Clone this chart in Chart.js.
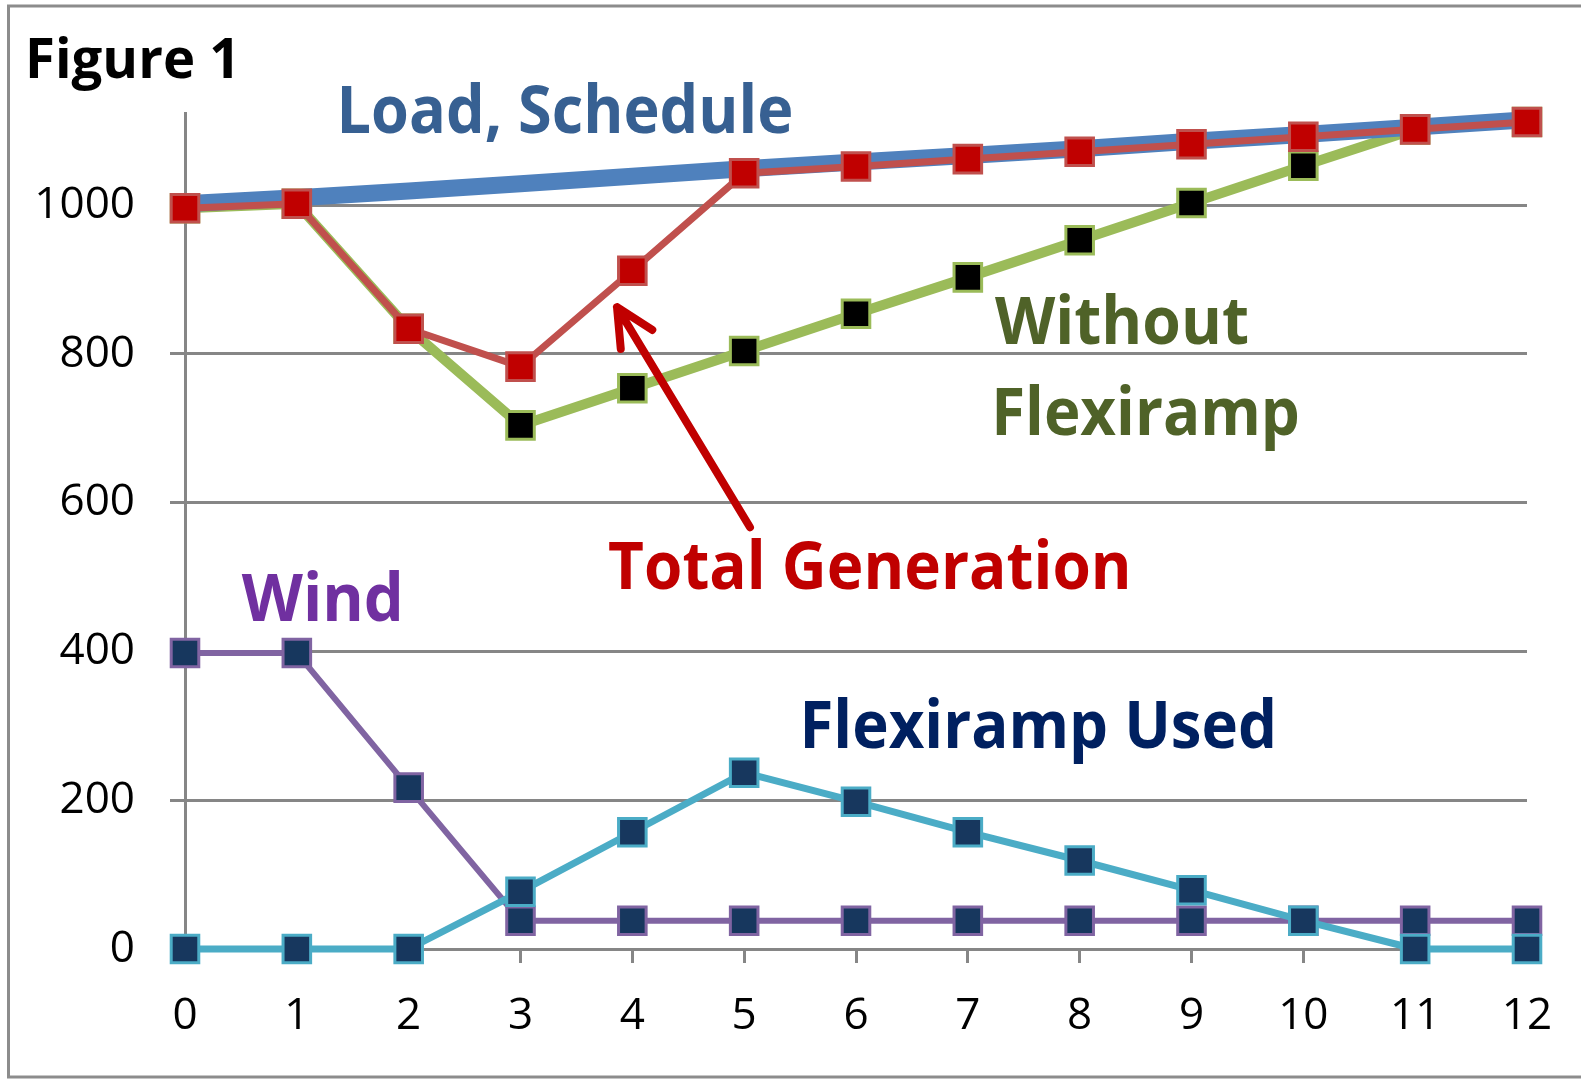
<!DOCTYPE html>
<html lang="en">
<head>
  <meta charset="UTF-8" />
  <title>Figure 1</title>
  <script src="https://cdn.jsdelivr.net/npm/chart.js@4.4.0/dist/chart.umd.min.js"></script>
  <style>
    body {
      margin: 0;
      padding: 0;
      background-color: #ffffff;
    }

    .chart-box {
      position: relative;
      width: 1581px;
      height: 1079px;
    }
  </style>
</head>
<body>
  <div class="chart-box">
    <canvas id="figureChart"></canvas>
  </div>

<script>
  // values
  const hours = ['0', '1', '2', '3', '4', '5', '6', '7', '8', '9', '10', '11', '12'];
  const loadSchedule = [1002, 1010, 1019, 1029, 1039, 1049, 1058, 1067, 1076, 1086, 1095, 1105, 1115];
  const totalGeneration = [996, 1002, 834, 783, 912, 1043, 1052, 1062, 1072, 1082, 1092, 1102, 1112];
  const withoutFlexiramp = [996, 1002, 834, 704, 754, 804, 854, 903, 953, 1003, 1053, 1102, 1112];
  const flexirampUsed = [0, 0, 0, 77, 157, 237, 198, 157, 119, 79, 38, 0, 0];
  const wind = [398, 398, 217, 38, 38, 38, 38, 38, 38, 38, 38, 38, 38];
  const yTicks = [0, 200, 400, 600, 800, 1000];

  const GRID = '#868686';
  const NAVY = '#17375E';

  // labels written on the chart, placed in data units
  const notes = [
    { text: 'Load, Schedule', x: 1.404, y: 1097, w: 449, color: '#376092' },
    { text: 'Without', x: 7.243, y: 814, w: 252, color: '#4F6228' },
    { text: 'Flexiramp', x: 7.258, y: 691, w: 301, color: '#4F6228' },
    { text: 'Total Generation', x: 3.791, y: 484, w: 518, color: '#C00000' },
    { text: 'Wind', x: 0.507, y: 441, w: 158, color: '#7030A0' },
    { text: 'Flexiramp Used', x: 5.544, y: 270, w: 468, color: '#002060' }
  ];

  function fitText(ctx, text, px, py, width, size, color) {
    ctx.save();
    ctx.font = 'bold ' + size + 'px "Open Sans"';
    ctx.fillStyle = color;
    ctx.textBaseline = 'alphabetic';
    ctx.textAlign = 'left';
    const m = ctx.measureText(text);
    const ink = m.actualBoundingBoxLeft + m.actualBoundingBoxRight;
    const sx = width / ink;
    ctx.translate(px + m.actualBoundingBoxLeft * sx, py);
    ctx.scale(sx, 1);
    ctx.fillText(text, 0, 0);
    ctx.restore();
  }

  const decorations = {
    id: 'decorations',
    beforeDraw(chart) {
      const ctx = chart.ctx;
      ctx.save();
      ctx.strokeStyle = '#8c8c8c';
      ctx.lineWidth = 3;
      ctx.strokeRect(8.5, 6, 1620, 1071);
      ctx.restore();
    },
    afterDatasetsDraw(chart) {
      const ctx = chart.ctx;
      const xs = chart.scales.x;
      const ys = chart.scales.y;

      fitText(ctx, 'Figure 1', 29, 77.5, 203, 55, '#000000');
      notes.forEach(n => {
        fitText(ctx, n.text, xs.getPixelForValue(n.x), ys.getPixelForValue(n.y), n.w, 67, n.color);
      });

      // arrow pointing at the total generation line
      const tx = xs.getPixelForValue(5.052), ty = ys.getPixelForValue(567);
      const hx = xs.getPixelForValue(3.863), hy = ys.getPixelForValue(863);
      const ang = Math.atan2(ty - hy, tx - hx);
      const len = 42, spread = 26 * Math.PI / 180;
      ctx.save();
      ctx.strokeStyle = '#C00000';
      ctx.lineWidth = 8;
      ctx.lineCap = 'round';
      ctx.lineJoin = 'round';
      ctx.beginPath();
      ctx.moveTo(tx, ty);
      ctx.lineTo(hx, hy);
      ctx.moveTo(hx + len * Math.cos(ang + spread), hy + len * Math.sin(ang + spread));
      ctx.lineTo(hx, hy);
      ctx.lineTo(hx + len * Math.cos(ang - spread), hy + len * Math.sin(ang - spread));
      ctx.stroke();
      ctx.restore();
    }
  };

  function lineSet(label, data, color, width, fill, edge) {
    return {
      label: label,
      data: data,
      borderColor: color,
      borderWidth: width,
      borderJoinStyle: 'round',
      borderCapStyle: 'round',
      pointStyle: 'rect',
      pointRadius: fill ? 19.5 : 0,
      pointHoverRadius: fill ? 19.5 : 0,
      pointBackgroundColor: fill,
      pointBorderColor: edge,
      pointBorderWidth: 3,
      tension: 0,
      clip: false,
      fill: false
    };
  }

  new Chart(document.getElementById('figureChart'), {
    type: 'line',
    data: {
      labels: hours,
      datasets: [
        lineSet('Total Generation', totalGeneration, '#C0504D', 7, '#C00000', '#C0504D'),
        lineSet('Load, Schedule', loadSchedule, '#4F81BD', 17, null, null),
        lineSet('Without Flexiramp', withoutFlexiramp, '#9BBB59', 10, '#000000', '#9BBB59'),
        lineSet('Flexiramp Used', flexirampUsed, '#4BACC6', 7, NAVY, '#4BACC6'),
        lineSet('Wind', wind, '#8064A2', 6, NAVY, '#8064A2')
      ]
    },
    options: {
      responsive: true,
      maintainAspectRatio: false,
      animation: false,
      layout: { padding: { left: 0, right: 54, top: 113, bottom: 0 } },
      plugins: {
        legend: { display: false },
        tooltip: { enabled: false }
      },
      scales: {
        x: {
          offset: false,
          grid: { display: true, drawOnChartArea: false, drawTicks: true, tickLength: 14, color: GRID, lineWidth: 3 },
          border: { display: true, color: GRID, width: 3 },
          ticks: { color: '#000000', padding: 27, maxRotation: 0, autoSkip: false, font: { family: 'Open Sans', size: 44 } },
          afterFit(scale) { scale.height = 130; }
        },
        y: {
          min: 0,
          max: 1124,
          afterBuildTicks(scale) { scale.ticks = yTicks.map(v => ({ value: v })); },
          grid: { color: GRID, lineWidth: 3, tickLength: 15 },
          border: { display: true, color: GRID, width: 3 },
          ticks: {
            color: '#000000',
            padding: 35,
            font: { family: 'Open Sans', size: 44 },
            callback: value => String(value)
          },
          afterFit(scale) { scale.width = 185; }
        }
      }
    },
    plugins: [decorations]
  });
</script>
</body>
</html>
